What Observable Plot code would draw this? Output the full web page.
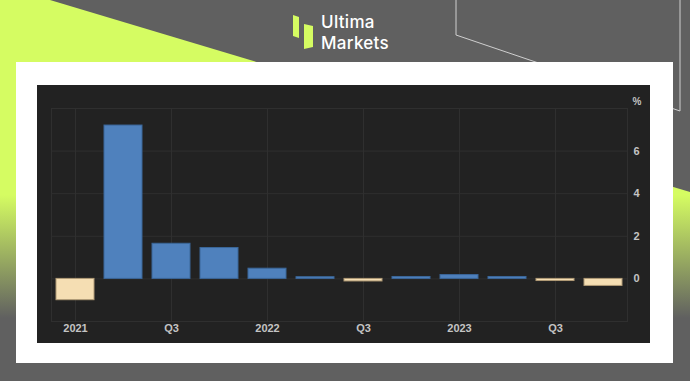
<!DOCTYPE html>
<html>
<head>
<meta charset="utf-8">
<script src="https://cdn.jsdelivr.net/npm/d3@7"></script>
<script src="https://cdn.jsdelivr.net/npm/@observablehq/plot@0.6"></script>
<style>
  html, body { margin: 0; padding: 0; }
  body { width: 690px; height: 381px; position: relative; overflow: hidden; background: #606060; font-family: "Liberation Sans", Arial, sans-serif; }
  #bg { position: absolute; left: 0; top: 0; }
  #logoText { position: absolute; left: 321px; top: 11.5px; color: #ffffff; font-family: Inter, sans-serif; font-weight: 500; font-size: 17px; line-height: 21px; letter-spacing: 0.3px; white-space: nowrap; }
  #card { position: absolute; left: 16px; top: 62px; width: 657px; height: 301px; background: #ffffff; }
  #chart { position: absolute; left: 37px; top: 85px; width: 613px; height: 258px; background: #222222; }
  #chart svg { display: block; }
</style>
</head>
<body>
<svg id="bg" width="690" height="381">
  <defs>
    <linearGradient id="g" gradientUnits="userSpaceOnUse" x1="0" y1="195" x2="0" y2="318">
      <stop offset="0" stop-color="#d5fc62"/>
      <stop offset="1" stop-color="#606060"/>
    </linearGradient>
  </defs>
  <polygon points="0,0 50,0 690,192 690,381 0,381" fill="url(#g)"/>
  <polyline points="456,0 456,35 680,111 680,0" fill="none" stroke="#cfcfcf" stroke-width="1"/>
  <polygon points="293,15 299,17 299,38 293,36" fill="#d5fc62"/>
  <polygon points="304,24 313,26 313,47 304,49" fill="#d5fc62"/>
</svg>
<div id="logoText">Ultima<br>Markets</div>
<div id="card"></div>
<div id="chart"></div>
<script>
const quarters = ["2021 Q1","2021 Q2","2021 Q3","2021 Q4","2022 Q1","2022 Q2","2022 Q3","2022 Q4","2023 Q1","2023 Q2","2023 Q3","2023 Q4"];
const values = [-1.0, 7.2, 1.65, 1.45, 0.48, 0.08, -0.12, 0.09, 0.18, 0.09, -0.1, -0.33];
const tickLabels = ["2021","","Q3","","2022","","Q3","","2023","","Q3",""];
const yTicks = [0, 2, 4, 6];
const yGrid = [0, 2, 4, 6, 8];
const unitLabel = ["%"];

const data = quarters.map((q, i) => ({q, v: values[i]}));
const labelOf = new Map(quarters.map((q, i) => [q, tickLabels[i]]));
const tickQuarters = quarters.filter((q, i) => tickLabels[i] !== "");

const chart = Plot.plot({
  width: 613,
  height: 258,
  marginLeft: 14,
  marginRight: 23,
  marginTop: 23,
  marginBottom: 22,
  style: { background: "#222222", color: "#c4c4c4", fontFamily: "Liberation Sans, Arial, sans-serif", fontSize: "11px", fontWeight: "bold" },
  x: { type: "band", domain: quarters, paddingInner: 0.2, paddingOuter: 0.1 },
  y: { domain: [-2, 8] },
  marks: [
    Plot.frame({ stroke: "#2f2f2f" }),
    Plot.gridY(yGrid, { stroke: "#2f2f2f", strokeOpacity: 1 }),
    Plot.gridX(tickQuarters, { stroke: "#2f2f2f", strokeOpacity: 1 }),
    Plot.barY(data, { filter: d => d.v >= 0, x: "q", y: "v", fill: "#4f81bd", stroke: "#3b6799", strokeWidth: 1 }),
    Plot.barY(data, { filter: d => d.v < 0, x: "q", y: "v", fill: "#f5deb3", stroke: "#b09a76", strokeWidth: 1 }),
    Plot.axisX({ ticks: tickQuarters, tickSize: 0, tickPadding: 3, tickFormat: q => labelOf.get(q), label: null, fill: "#c4c4c4" }),
    Plot.axisY({ anchor: "right", ticks: yTicks, tickSize: 0, tickPadding: 6, label: null, fill: "#c4c4c4" }),
    Plot.text(unitLabel, { text: d => d, frameAnchor: "top-right", dx: 5, dy: -11, textAnchor: "start", fill: "#c4c4c4", fontSize: 10 })
  ]
});
document.getElementById("chart").appendChild(chart);
</script>
</body>
</html>
